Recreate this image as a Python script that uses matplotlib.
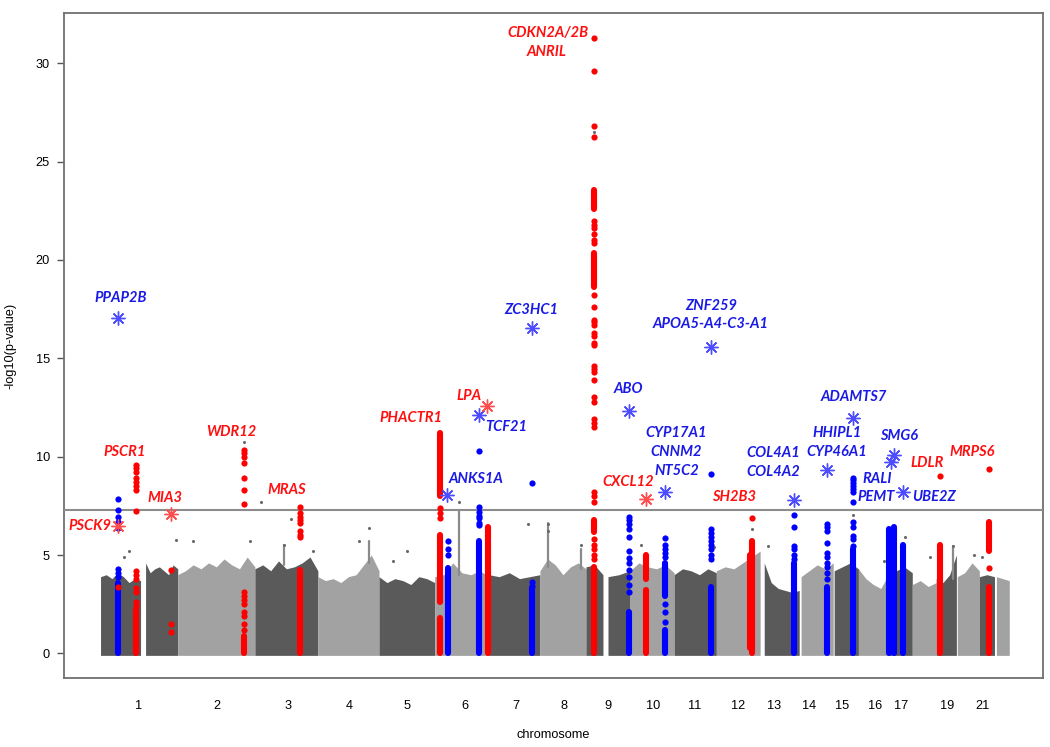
import numpy as np
import matplotlib.pyplot as plt

# ---- chromosome blocks of background SNPs (cumulative Mb, heights) ----
arm_start = [3, 146, 248, 493, 693, 887, 1064, 1236, 1398, 1544, 1614, 1684, 1824,
             1958, 2110, 2227, 2332, 2409, 2504, 2580, 2656, 2723, 2793, 2847]
arm_end = [130, 248, 493, 693, 887, 1064, 1236, 1398, 1544, 1598, 1684, 1824, 1958,
           2097, 2221, 2329, 2409, 2504, 2580, 2656, 2720, 2793, 2841, 2888]
arm_dark = [1, 1, 0, 1, 0, 1, 0, 1, 0, 1, 1, 0, 1, 0, 1, 0, 1, 0, 1, 0, 1, 0, 1, 0]
arm_top = [
    [3.9, 4.0, 3.8, 4.1, 3.9, 3.6, 3.8, 3.7],
    [4.6, 4.1, 4.3, 4.4, 4.2, 4.0, 4.5, 4.3],
    [4.0, 4.2, 4.5, 4.3, 4.6, 4.4, 4.8, 4.5, 4.3, 4.9, 4.4],
    [4.3, 4.5, 4.2, 4.7, 4.3, 4.4, 4.6, 4.9, 4.2],
    [3.9, 3.7, 3.8, 3.6, 3.9, 4.0, 4.5, 5.0, 4.2],
    [3.9, 3.6, 3.8, 3.7, 3.5, 3.9, 3.8, 3.6],
    [3.9, 4.0, 4.6, 4.1, 4.0, 4.2, 3.9],
    [4.0, 3.9, 4.1, 3.8, 3.9, 4.0],
    [4.2, 4.8, 4.5, 4.0, 4.4, 4.6, 4.3],
    [4.4, 4.5, 4.0],
    [3.9, 4.0, 4.2],
    [4.2, 4.6, 4.4, 4.3, 4.5, 4.1],
    [4.0, 4.3, 4.2, 4.0, 4.3, 4.1],
    [4.2, 4.4, 4.3, 4.6, 4.9, 5.2],
    [4.6, 3.6, 3.3, 3.2, 3.1, 3.2],
    [3.9, 4.2, 4.5, 4.3, 4.6],
    [4.2, 4.4, 4.6, 4.3],
    [4.3, 3.8, 3.5, 3.3, 4.0],
    [4.0, 4.2, 4.4, 4.1],
    [3.5, 3.7, 3.4, 3.6],
    [3.8, 3.6, 4.0, 5.0],
    [3.9, 4.1, 4.6, 4.2],
    [3.9, 4.0, 3.9],
    [3.9, 3.8, 3.7],
]

# stray background SNPs above the bulk
grey_x = [76, 92, 241, 296, 477, 512, 458, 607, 585, 677, 855, 823, 976, 931, 1141,
          1360, 1424, 1424, 1528, 1719, 1951, 2072, 2123, 2393, 2491, 2558, 2637,
          2710, 2777, 2802, 1570]
grey_y = [4.9, 5.2, 5.75, 5.7, 5.7, 7.7, 10.75, 6.85, 5.5, 5.2, 6.35, 5.7, 5.2, 4.7,
          7.7, 6.6, 6.6, 6.2, 5.5, 5.5, 5.4, 6.3, 5.45, 7.05, 4.7, 5.9, 4.9, 5.45,
          5.0, 4.9, 26.5]
grey_col_x = [1141, 1424, 585, 855, 2710, 1528]
grey_col_lo = [4.0, 4.4, 4.5, 4.6, 3.8, 4.3]
grey_col_hi = [7.3, 6.65, 5.5, 5.7, 5.45, 5.3]

# ---- highlighted loci: position, colour, dense runs and single SNPs ----
hit_x = [60, 58, 114, 226, 458, 636, 1080, 1106, 1204, 1233, 1373, 1570, 1681, 1735,
         1795, 1942, 2072, 2066, 2205, 2310, 2393, 2507, 2523, 2552, 2669, 2822]
hit_color = ['b', 'r', 'r', 'r', 'r', 'r', 'r', 'b', 'b', 'r', 'b', 'r', 'b', 'r',
             'b', 'b', 'r', 'r', 'b', 'b', 'b', 'b', 'b', 'b', 'r', 'r']
hit_dense = [
    [(0, 3.6)], [], [(0, 2.2)], [], [(0, 0.9)], [(0, 4.26)],
    [(0, 1.8), (2.6, 6.0), (8.0, 11.2)], [(0, 4.35)], [(0, 5.7)], [(0, 6.4)],
    [(0, 3.3)], [(0, 4.4), (6.15, 6.8), (18.6, 20.35), (22.6, 23.55)],
    [(0, 2.1)], [(0, 3.2), (3.8, 5.0)], [(0, 1.2), (2.9, 4.6)], [(0, 3.4)],
    [(0, 5.7)], [(0.3, 5.0)], [(0, 4.6)], [(0, 3.4)], [(0, 5.3)],
    [(0, 6.3)], [(0, 6.4)], [(0, 5.5)], [(0, 5.5)], [(0, 3.35), (5.2, 6.7)],
]
hit_points = [
    [3.9, 4.1, 4.3, 6.35, 6.7, 6.95, 7.3, 7.85],
    [3.35],
    [2.4, 2.6, 3.1, 3.3, 3.8, 4.0, 4.2, 7.26, 8.3, 8.5, 8.7, 8.9, 9.2, 9.4, 9.6],
    [1.1, 1.5, 4.26],
    [1.2, 1.5, 1.9, 2.1, 2.5, 2.7, 2.9, 3.1, 7.6, 8.3, 8.9, 9.7, 10.0, 10.2, 10.35],
    [5.9, 6.0, 6.2, 6.65, 6.8, 6.95, 7.15, 7.46],
    [6.9, 7.15, 7.4],
    [5.0, 5.3, 5.7],
    [6.55, 6.65, 6.9, 7.0, 7.2, 7.46, 10.3],
    [],
    [3.45, 3.65, 8.66],
    [4.8, 5.0, 5.3, 5.5, 5.8, 7.7, 8.0, 8.2, 11.5, 11.7, 11.9, 12.8, 13.05, 13.9,
     14.3, 14.45, 14.6, 15.65, 15.8, 16.15, 16.3, 16.7, 16.85, 16.95, 17.6, 18.2,
     20.85, 21.0, 21.3, 21.6, 21.8, 22.0, 26.25, 26.8, 29.6, 31.3],
    [3.1, 3.5, 3.9, 4.25, 4.6, 4.85, 5.2, 5.9, 6.3, 6.6, 6.8, 6.95],
    [],
    [1.6, 2.1, 2.5, 4.9, 5.1, 5.3, 5.5, 5.85],
    [4.8, 5.0, 5.3, 5.5, 5.7, 5.9, 6.1, 6.3, 9.1],
    [6.9],
    [],
    [4.8, 5.0, 5.3, 5.45, 6.4, 7.05],
    [3.8, 4.1, 4.4, 4.6, 4.9, 5.1, 5.6, 6.2, 6.4, 6.6],
    [5.45, 5.8, 5.95, 6.4, 6.7, 7.7, 8.2, 8.35, 8.5, 8.65, 8.8, 8.9],
    [], [], [],
    [9.0],
    [4.35, 9.37],
]

# replication results (asterisks)
star_x = [60, 60, 226, 1103, 1204, 1230, 1373, 1681, 1735, 1795, 1942, 2205, 2310,
          2393, 2513, 2523, 2552]
star_y = [17.07, 6.5, 7.1, 8.05, 12.1, 12.55, 16.56, 12.3, 7.85, 8.22, 15.55, 7.82,
          9.3, 11.96, 9.71, 10.07, 8.19]
star_color = ['b', 'r', 'r', 'b', 'b', 'r', 'b', 'b', 'r', 'b', 'b', 'b', 'b', 'b',
              'b', 'b', 'b']

gene_label = ['PPAP2B', 'PSCK9', 'PSCR1', 'MIA3', 'WDR12', 'MRAS', 'PHACTR1', 'LPA',
              'TCF21', 'ANKS1A', 'ZC3HC1', 'CDKN2A/2B', 'ANRIL', 'ZNF259',
              'APOA5-A4-C3-A1', 'ABO', 'CYP17A1', 'CNNM2', 'NT5C2', 'CXCL12', 'SH2B3',
              'COL4A1', 'COL4A2', 'HHIPL1', 'CYP46A1', 'ADAMTS7', 'SMG6', 'RALI',
              'PEMT', 'UBE2Z', 'LDLR', 'MRPS6']
label_x = [67, -32, 79, 207, 419, 594, 988, 1173, 1290, 1195, 1370, 1424, 1420, 1941,
           1941, 1678, 1830, 1830, 1834, 1678, 2015, 2139, 2139, 2342, 2339, 2393,
           2539, 2469, 2466, 2650, 2628, 2771]
label_y = [18.07, 6.5, 10.25, 7.92, 11.27, 8.32, 11.98, 13.1, 11.52, 8.88, 17.46,
           31.52, 30.56, 17.66, 16.75, 13.45, 11.22, 10.25, 9.29, 8.73, 7.97, 10.2,
           9.24, 11.22, 10.25, 13.05, 11.07, 8.88, 7.97, 7.97, 9.7, 10.25]
label_color = ['b', 'r', 'r', 'r', 'r', 'r', 'r', 'r', 'b', 'b', 'b', 'r', 'r', 'b',
               'b', 'b', 'b', 'b', 'b', 'r', 'r', 'b', 'b', 'b', 'b', 'b', 'b', 'b',
               'b', 'b', 'r', 'r']

tick_pos = [124, 372, 597, 791, 976, 1160, 1322, 1474, 1614, 1757, 1888, 2027, 2142,
            2253, 2358, 2463, 2545, 2691, 2802]
tick_lab = ['1', '2', '3', '4', '5', '6', '7', '8', '9', '10', '11', '12', '13', '14',
            '15', '16', '17', '19', '21']

sig_line = 7.3

dot_col = {'r': '#ff0000', 'b': '#0000ff'}
star_col = {'r': '#ff4d4d', 'b': '#4d4dff'}
txt_col = {'r': '#ff1010', 'b': '#1a1ae6'}

fig = plt.figure(figsize=(10.5, 7.47), dpi=100)
ax = fig.add_axes([64 / 1050, 1 - 678 / 747, (1043 - 64) / 1050, (678 - 13) / 747])

for s, e, d, top in zip(arm_start, arm_end, arm_dark, arm_top):
    xs = np.linspace(s, e, len(top))
    c = '#5a5a5a' if d else '#a2a2a2'
    ax.fill_between(xs, -0.1, top, color=c, lw=0, zorder=1)

for x, lo, hi in zip(grey_col_x, grey_col_lo, grey_col_hi):
    ax.plot([x, x], [lo, hi], color='#8a8a8a', lw=1.6, solid_capstyle='round', zorder=2)
ax.scatter(grey_x, grey_y, s=5, color='#6a6a6a', lw=0, zorder=2)

ax.axhline(sig_line, color='#8c8c8c', lw=1.5, zorder=3)

for x, c, dense, pts in zip(hit_x, hit_color, hit_dense, hit_points):
    for lo, hi in dense:
        ax.plot([x, x], [lo, hi], color=dot_col[c], lw=4.4, solid_capstyle='round',
                zorder=4)
    if pts:
        ax.scatter([x] * len(pts), pts, s=20, color=dot_col[c], lw=0, zorder=4)

for x, y, c in zip(star_x, star_y, star_color):
    ax.plot(x, y, marker=(8, 2, 0), ms=10, mew=1.0, color=star_col[c],
            ls='none', zorder=5)

for t, x, y, c in zip(gene_label, label_x, label_y, label_color):
    ax.text(x, y, t, color=txt_col[c], fontsize=10.5, fontstyle='italic',
            fontweight='bold', family='Lato', ha='center', va='center', zorder=6)

ax.set_xlim(-113, 2995)
ax.set_ylim(-1.25, 32.55)
ax.set_yticks([0, 5, 10, 15, 20, 25, 30])
ax.set_xticks(tick_pos)
ax.set_xticklabels(tick_lab)
ax.tick_params(axis='x', length=0, pad=16, labelsize=9.2)
ax.tick_params(axis='y', length=5, width=1, color='#555555', pad=5, labelsize=9.2)
for lab in ax.get_xticklabels() + ax.get_yticklabels():
    lab.set_family('Liberation Sans')
for sp in ax.spines.values():
    sp.set_color('#707070')
    sp.set_linewidth(1.3)

ax.set_xlabel('chromosome', family='Liberation Sans', fontsize=9.2, labelpad=12)
ax.set_ylabel('-log10(p-value)', family='Liberation Sans', fontsize=9.2, labelpad=14)

fig.savefig('out.png', dpi=100)
